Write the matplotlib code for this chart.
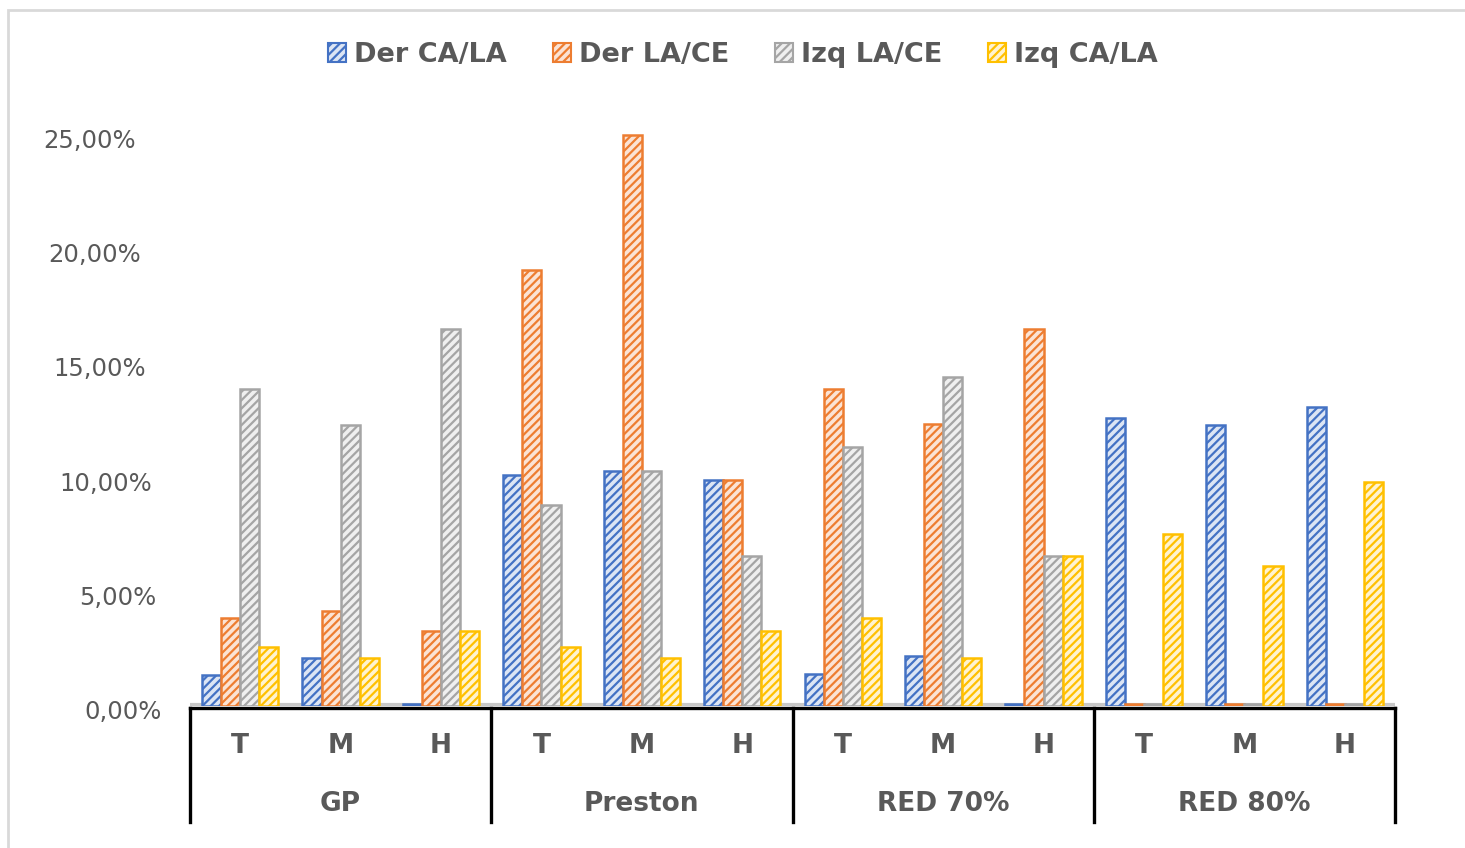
import numpy as np
import matplotlib
matplotlib.use("Agg")
import matplotlib.pyplot as plt
from matplotlib.patches import Patch, Rectangle
from matplotlib.lines import Line2D
from matplotlib.transforms import blended_transform_factory, offset_copy

groups = ["GP", "Preston", "RED 70%", "RED 80%"]
phases = ["T", "M", "H"]
series = ["Der CA/LA", "Der LA/CE", "Izq LA/CE", "Izq CA/LA"]

# percentages, one value per group/phase in order GP T..H, Preston T..H, ...
der_ca_la = [1.35, 2.1, 0.1, 10.1, 10.3, 9.9, 1.4, 2.2, 0.1, 12.6, 12.3, 13.1]
der_la_ce = [3.85, 4.15, 3.3, 19.1, 25.0, 9.9, 13.9, 12.35, 16.5, 0.1, 0.1, 0.1]
izq_la_ce = [13.9, 12.3, 16.5, 8.8, 10.3, 6.55, 11.35, 14.4, 6.55, 0.1, 0.1, 0.1]
izq_ca_la = [2.6, 2.1, 3.3, 2.6, 2.1, 3.3, 3.85, 2.1, 6.55, 7.55, 6.15, 9.8]

edge_colors = ["#4472C4", "#ED7D31", "#A5A5A5", "#FFC000"]
fill_colors = ["#DCE5F4", "#FBE3D4", "#EFEFEF", "#FFF3CF"]
text_color = "#595959"

plt.rcParams["hatch.linewidth"] = 1.6

fig = plt.figure(figsize=(14.65, 8.48), dpi=100)
ax = fig.add_axes([190 / 1465, 142 / 848, 1205 / 1465, 576 / 848])

# light frame around the chart
fig.patches.append(Rectangle((8 / 1465, -0.1), 1.2, 1 - 10 / 848 + 0.1,
                             transform=fig.transFigure, fill=False,
                             edgecolor="#D9D9D9", linewidth=2))

x = np.arange(len(groups) * len(phases))
width = 0.19
offsets = [-1.5 * width, -0.5 * width, 0.5 * width, 1.5 * width]
values = [der_ca_la, der_la_ce, izq_la_ce, izq_ca_la]

# floor of the plot
ax.axhline(0.05, color="#C8C8C8", linewidth=3, zorder=1)

for vals, off, ec, fc in zip(values, offsets, edge_colors, fill_colors):
    ax.bar(x + off, vals, width, facecolor=fc, edgecolor=ec, hatch="////",
           linewidth=1.8, zorder=3)

ax.set_xlim(-0.5, len(x) - 0.5)
ymax = 25 + 5 / 22.9
ax.set_ylim(0, ymax)
ax.set_xticks([])
ax.set_yticks([])
for s in ax.spines.values():
    s.set_visible(False)

# y labels, stepped like the perspective axis
ytrans = offset_copy(ax.get_yaxis_transform(), fig=fig, y=-6, units="dots")
for v in [0, 5, 10, 15, 20, 25]:
    off = (28 + 26 * v / 25) / 1205
    ax.text(-off, v, f"{v},00%", transform=ytrans, ha="right", va="center",
            fontsize=17.5, color=text_color)

# category table under the axis
bt = blended_transform_factory(ax.transData, fig.transFigure)
y_axis = 1 - 708 / 848
y_bottom = 1 - 822 / 848
ax.add_line(Line2D([-0.5, len(x) - 0.5], [y_axis, y_axis], transform=bt,
                   color="black", linewidth=2.4, clip_on=False))
for g in range(len(groups) + 1):
    xb = g * len(phases) - 0.5
    ax.add_line(Line2D([xb, xb], [y_axis, y_bottom], transform=bt,
                       color="black", linewidth=2.4, clip_on=False))

for i, xi in enumerate(x):
    ax.text(xi, 1 - 746 / 848, phases[i % len(phases)], transform=bt,
            ha="center", va="center", fontsize=19, fontweight="bold",
            color=text_color)
for g, name in enumerate(groups):
    ax.text(g * len(phases) + 1, 1 - 804 / 848, name, transform=bt,
            ha="center", va="center", fontsize=19, fontweight="bold",
            color=text_color)

handles = [Patch(facecolor=fc, edgecolor=ec, hatch="////", linewidth=1.5)
           for ec, fc in zip(edge_colors, fill_colors)]
leg = fig.legend(handles, series, loc="center", ncol=4,
                 bbox_to_anchor=(743 / 1465, 1 - 55 / 848), frameon=False,
                 handlelength=0.65, handleheight=0.65, handletextpad=0.3,
                 columnspacing=1.7,
                 prop={"size": 19.5, "weight": "bold"})
for t in leg.get_texts():
    t.set_color(text_color)

fig.savefig("out.png", dpi=100, facecolor="white")
